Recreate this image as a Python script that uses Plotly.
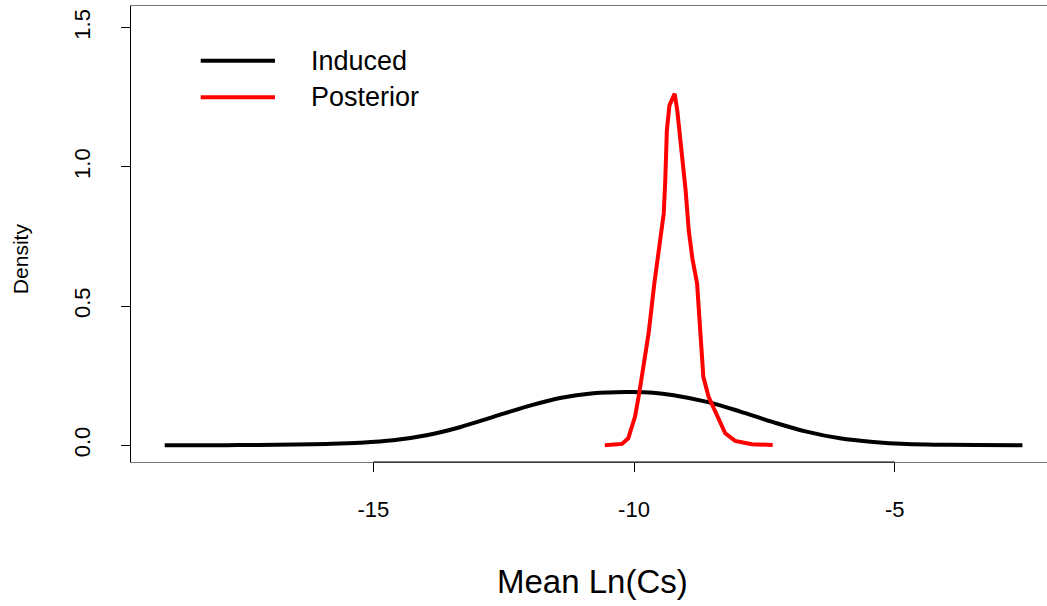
import plotly.graph_objects as go

# Induced prior density of mean Ln(Cs)
induced_x = [-19.0, -18.4, -17.8, -17.2, -16.5, -15.9, -15.26, -14.62, -13.98, -13.34,
             -12.70, -12.06, -11.42, -10.78, -10.14, -9.63, -9.24, -8.60, -7.96, -7.33,
             -6.69, -6.05, -5.41, -4.77, -4.13, -3.45, -2.55]
induced_y = [0.000, 0.0003, 0.0006, 0.0012, 0.0025, 0.005, 0.0093, 0.018, 0.036, 0.065,
             0.102, 0.139, 0.170, 0.187, 0.191, 0.189, 0.180, 0.156, 0.121, 0.083,
             0.049, 0.025, 0.012, 0.0047, 0.002, 0.0008, 0.0002]

# Posterior density of mean Ln(Cs)
posterior_x = [-10.56, -10.40, -10.23, -10.11, -9.98, -9.90, -9.82, -9.72, -9.61, -9.53,
               -9.50, -9.43, -9.40, -9.37, -9.32, -9.22, -9.17, -9.09, -9.01, -8.95,
               -8.88, -8.79, -8.73, -8.67, -8.57, -8.41, -8.25, -8.06, -7.74, -7.34]
posterior_y = [0.000, 0.001, 0.005, 0.025, 0.103, 0.187, 0.282, 0.402, 0.581, 0.700,
               0.725, 0.832, 0.952, 1.131, 1.221, 1.263, 1.203, 1.071, 0.916, 0.772,
               0.671, 0.581, 0.402, 0.246, 0.174, 0.109, 0.043, 0.016, 0.004, 0.001]

x_ticks = [-15, -10, -5]
y_ticks = [0.0, 0.5, 1.0, 1.5]
y_tick_labels = ["0.0", "0.5", "1.0", "1.5"]

legend_names = ["Induced", "Posterior"]
legend_colors = ["black", "red"]

FONT = "Liberation Sans, Arial, sans-serif"

fig = go.Figure()
fig.add_trace(go.Scatter(x=induced_x, y=induced_y, mode="lines",
                         line=dict(color="black", width=4, shape="spline", smoothing=1.0),
                         showlegend=False, hoverinfo="skip"))
fig.add_trace(go.Scatter(x=posterior_x, y=posterior_y, mode="lines",
                         line=dict(color="red", width=4),
                         showlegend=False, hoverinfo="skip"))

# axis segment spanning the labelled ticks
fig.add_shape(type="line", xref="x", yref="y domain", x0=x_ticks[0], x1=x_ticks[-1],
              y0=0, y1=0, line=dict(color="black", width=1))

# hand-drawn legend
leg_y = [0.880, 0.800]
for name, col, yy in zip(legend_names, legend_colors, leg_y):
    fig.add_shape(type="line", xref="paper", yref="paper", x0=0.0761, x1=0.1572,
                  y0=yy, y1=yy, line=dict(color=col, width=4))
    fig.add_annotation(xref="paper", yref="paper", x=0.1945, y=yy, text=name,
                       showarrow=False, xanchor="left", yanchor="middle",
                       font=dict(family=FONT, size=27, color="black"))

fig.add_annotation(xref="paper", yref="paper", x=0.504, y=-0.261, text="Mean Ln(Cs)",
                   showarrow=False, xanchor="center", yanchor="middle",
                   font=dict(family=FONT, size=33, color="black"))
fig.add_annotation(xref="paper", yref="paper", x=-0.1212, y=0.447, text="Density",
                   textangle=-90, showarrow=False, xanchor="center", yanchor="middle",
                   font=dict(family=FONT, size=21, color="black"))

fig.update_layout(
    width=1047, height=606,
    margin=dict(l=131, r=0, t=6, b=144),
    paper_bgcolor="white", plot_bgcolor="white",
    xaxis=dict(range=[-19.647, -2.079], tickvals=x_ticks, ticktext=[str(v) for v in x_ticks],
               ticks="outside", ticklen=9, tickcolor="black", tickwidth=1,
               showline=True, linecolor="#777", linewidth=1, mirror=True,
               showgrid=False, zeroline=False, ticklabelstandoff=19,
               tickfont=dict(family=FONT, size=22, color="black")),
    yaxis=dict(range=[-0.060, 1.578], tickvals=y_ticks, ticktext=y_tick_labels,
               ticks="outside", ticklen=9, tickcolor="black", tickwidth=1,
               showline=True, linecolor="black", linewidth=1, mirror=False,
               showgrid=False, zeroline=False, tickangle=-90, ticklabelstandoff=22,
               tickfont=dict(family=FONT, size=22, color="black")),
)

fig.write_html("out.html")
